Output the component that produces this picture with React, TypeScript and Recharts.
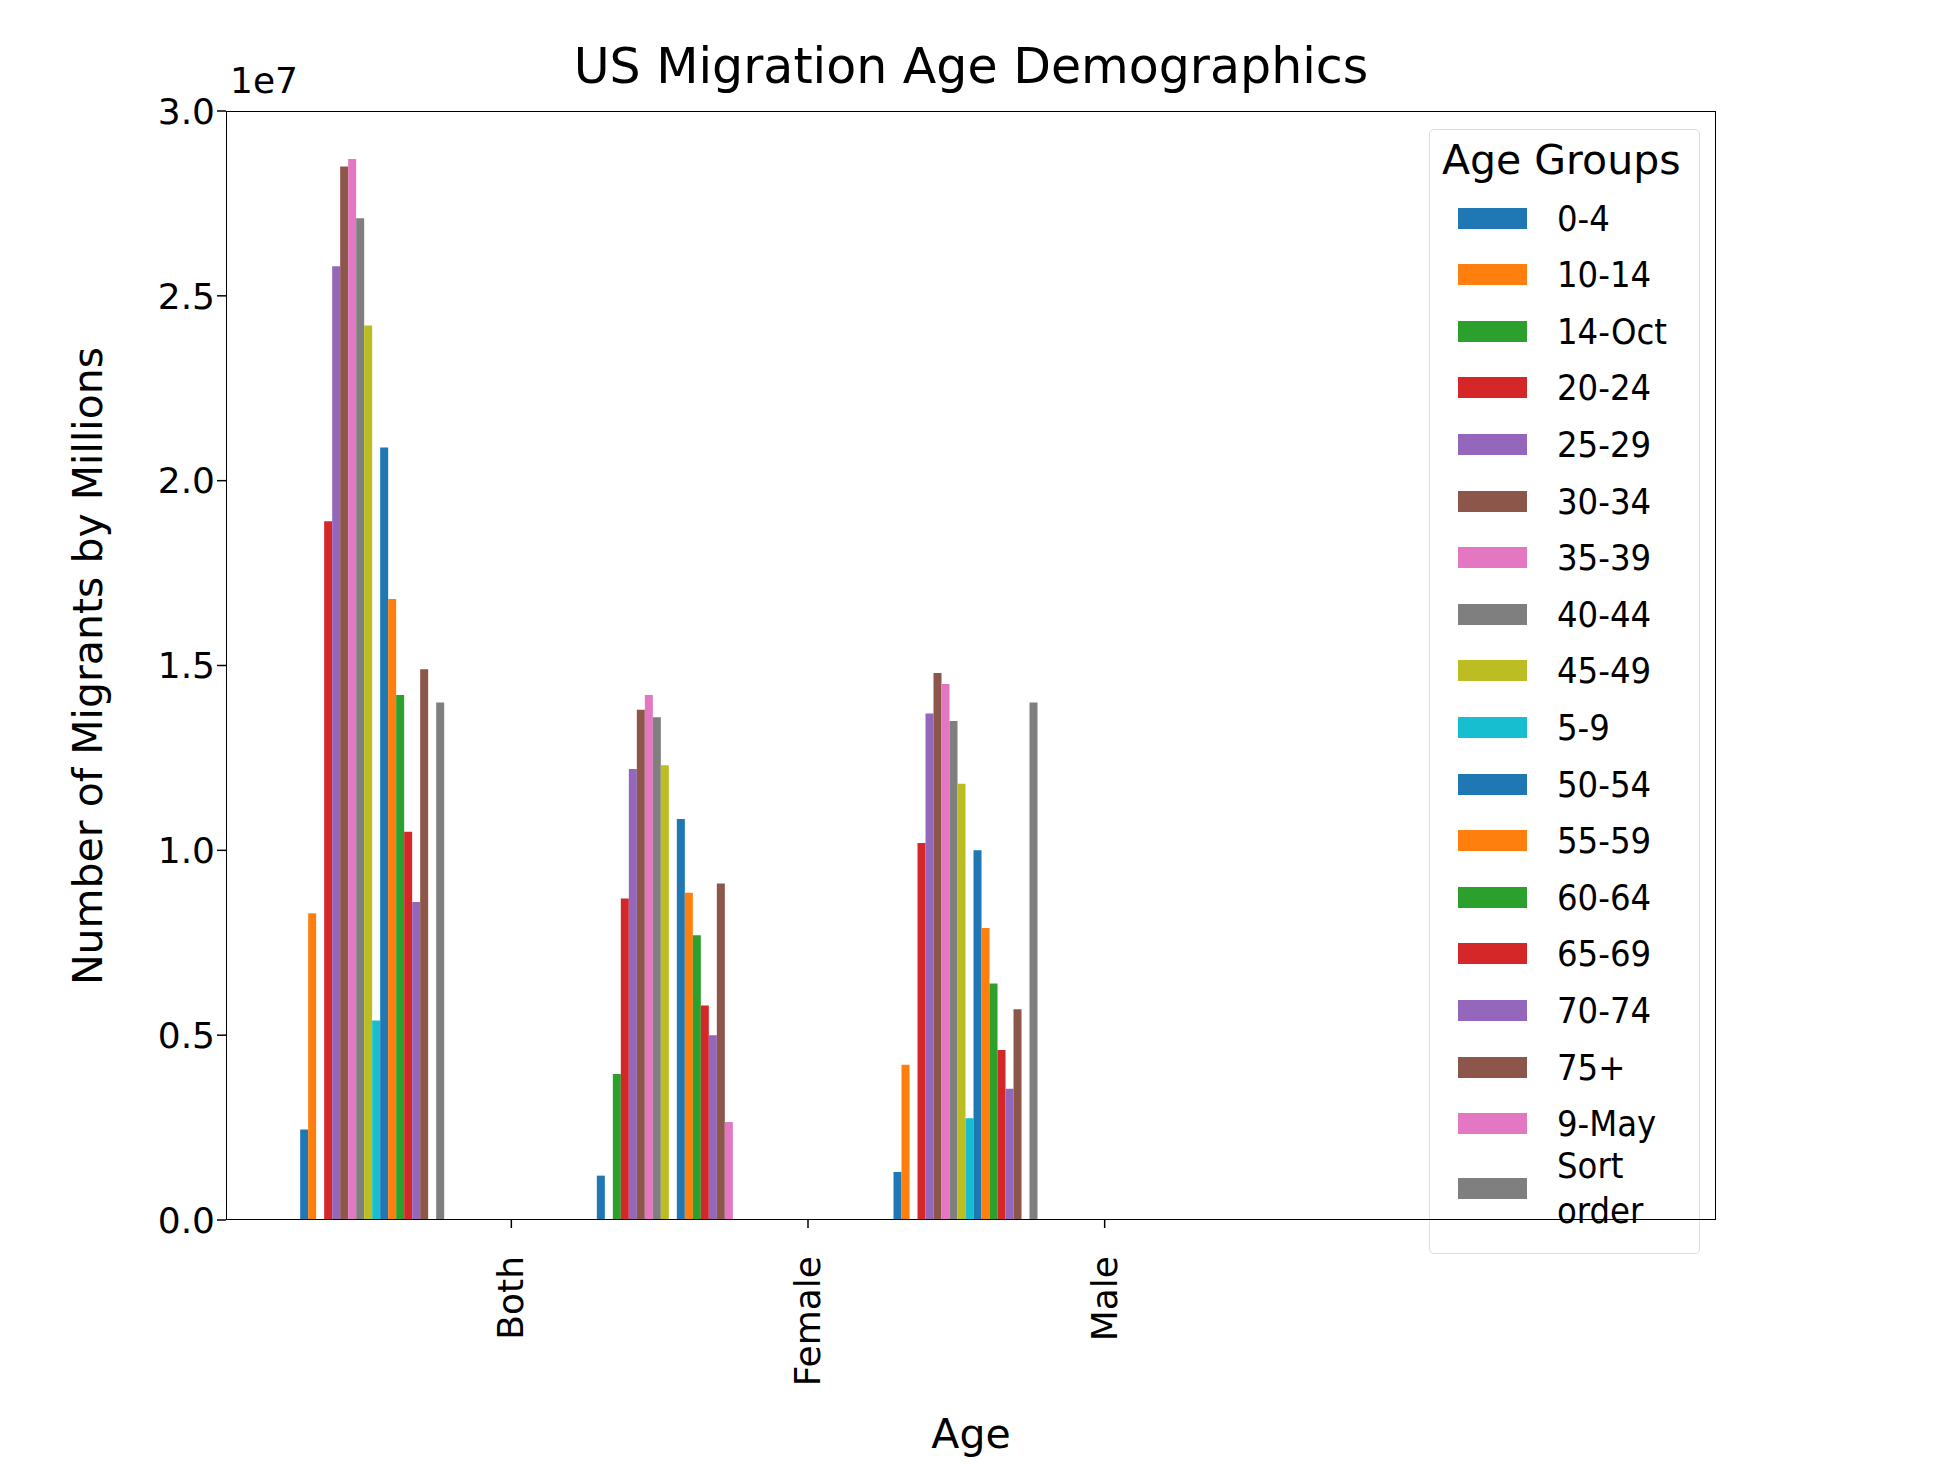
import React from 'react';
import { BarChart, Bar, XAxis, YAxis, Legend } from 'recharts';

const categories = ['Both', 'Female', 'Male'];
const ageGroups = [
  '0-4', '10-14', '14-Oct', '20-24', '25-29', '30-34', '35-39', '40-44', '45-49',
  '5-9', '50-54', '55-59', '60-64', '65-69', '70-74', '75+', '9-May', 'Sort order',
];
// values in millions, one row per age group: [Both, Female, Male]
const both = [2.45, 8.3, 0, 18.9, 25.8, 28.5, 28.7, 27.1, 24.2, 5.4, 20.9, 16.8, 14.2, 10.5, 8.6, 14.9, 0, 14.0];
const female = [1.2, 0, 3.95, 8.7, 12.2, 13.8, 14.2, 13.6, 12.3, 0, 10.85, 8.85, 7.7, 5.8, 5.0, 9.1, 2.65, 0];
const male = [1.3, 4.2, 0, 10.2, 13.7, 14.8, 14.5, 13.5, 11.8, 2.75, 10.0, 7.9, 6.4, 4.6, 3.55, 5.7, 0, 14.0];
const yTicks = [0, 5e6, 1e7, 1.5e7, 2e7, 2.5e7, 3e7];

const TAB10 = ['#1f77b4', '#ff7f0e', '#2ca02c', '#d62728', '#9467bd', '#8c564b', '#e377c2', '#7f7f7f', '#bcbd22', '#17becf'];
const FONT = 'DejaVu Sans';

const rows = [both, female, male];
const data = categories.map((name, ci) => {
  const row: Record<string, string | number> = { name };
  ageGroups.forEach((g, gi) => { row[g] = rows[ci][gi] * 1e6; });
  return row;
});

const XTick = (props: any) => {
  const { x, y, payload } = props;
  const tx = x + 137;
  return (
    <g>
      <line x1={tx} y1={y - 9} x2={tx} y2={y} stroke="#000" strokeWidth={1.5} />
      <text x={tx + 12} y={y + 28} transform={`rotate(-90 ${tx + 12} ${y + 28})`}
        textAnchor="end" fontSize={36} fontFamily={FONT} fill="#000">{payload.value}</text>
    </g>
  );
};

const LegendBox = () => (
  <div style={{
    width: 271, height: 1125, border: '1.5px solid #ddd', borderRadius: 5, background: '#fff',
    boxSizing: 'border-box', fontFamily: FONT, position: 'relative',
  }}>
    <div style={{ position: 'absolute', left: 12, top: 6, fontSize: 41 }}>Age Groups</div>
    {ageGroups.map((g, i) => {
      const cy = 66 + i * 56.6 + (i === 17 ? 8 : 0);
      return (
        <div key={g} style={{ position: 'absolute', left: 28, top: cy, height: 44, display: 'flex', alignItems: 'center' }}>
          <div style={{ width: 69, height: 21, background: TAB10[i % 10] }} />
          <div style={{
            marginLeft: 30, fontSize: 36, fontFamily: 'DejaVu Sans Condensed, DejaVu Sans', lineHeight: '45px',
            width: 130, whiteSpace: 'nowrap',
          }}>{i === 17 ? <span>Sort<br />order</span> : g}</div>
        </div>
      );
    })}
  </div>
);

export default function App() {
  return (
    <div style={{ position: 'relative', left: -8, top: -8, width: 1958, height: 1480, background: '#fff' }}>
      <BarChart width={1958} height={1480} data={data}
        margin={{ top: 111, right: 571, left: 126, bottom: 200 }}
        barCategoryGap="25%" barGap={0}>
        <XAxis dataKey="name" height={60} axisLine={false} tickLine={false}
          tick={<XTick />} interval={0} />
        <YAxis width={100} domain={[0, 3e7]} ticks={yTicks} axisLine={false}
          tickSize={9} tickLine={{ stroke: '#000', strokeWidth: 1.5 }}
          tickFormatter={(v: number) => (v / 1e7).toFixed(1)}
          tick={{ fontSize: 36, fontFamily: FONT, fill: '#000' }} />
        <Legend content={<LegendBox />} layout="vertical" verticalAlign="top" align="right"
          wrapperStyle={{ left: 1429, top: 129, width: 271 }} />
        {ageGroups.map((g, i) => (
          <Bar key={g} dataKey={g} fill={TAB10[i % 10]} isAnimationActive={false} />
        ))}
      </BarChart>
      <div style={{
        position: 'absolute', left: 226, top: 111, width: 1490, height: 1109,
        border: '1.5px solid #000', boxSizing: 'border-box', pointerEvents: 'none',
      }} />
      <div style={{ position: 'absolute', left: 226, width: 1490, top: 38, textAlign: 'center', fontFamily: FONT, fontSize: 49 }}>
        US Migration Age Demographics
      </div>
      <div style={{ position: 'absolute', left: 230, top: 60, fontFamily: FONT, fontSize: 36 }}>1e7</div>
      <div style={{ position: 'absolute', left: 226, width: 1490, top: 1410, textAlign: 'center', fontFamily: FONT, fontSize: 41 }}>Age</div>
      <div style={{
        position: 'absolute', left: 88, top: 666, transform: 'translate(-50%, -50%) rotate(-90deg)',
        whiteSpace: 'nowrap', fontFamily: FONT, fontSize: 41,
      }}>Number of Migrants by Millions</div>
    </div>
  );
}
